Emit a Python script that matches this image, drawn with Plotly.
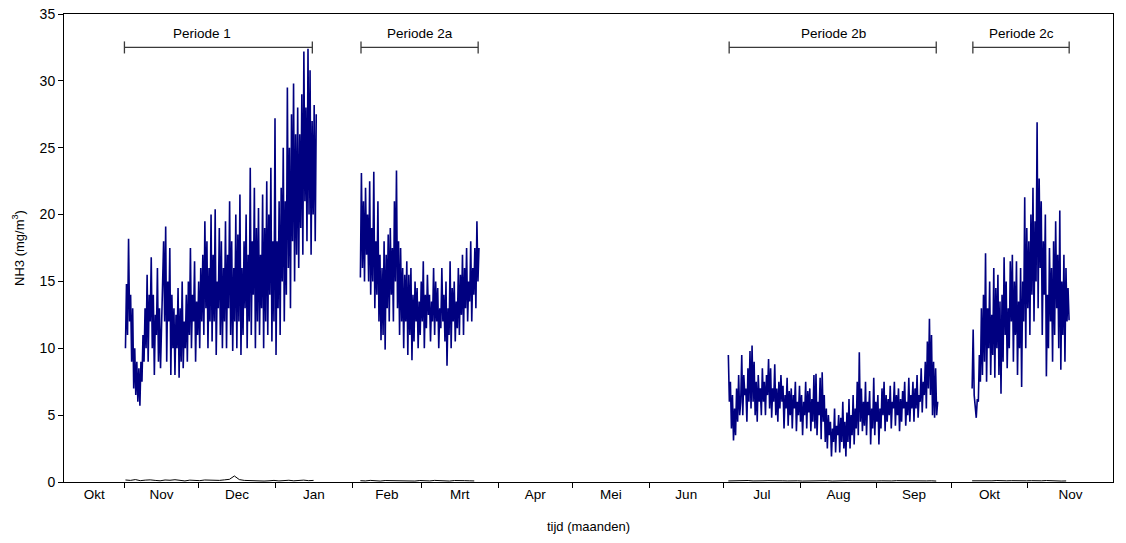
import pandas as pd
import plotly.graph_objects as go

# ---------------- data ----------------
STEP = "10h"

p1_start = "2004-11-01 10:00"
p1_nh3 = [
    10, 14.8, 11, 18.2, 12, 14, 9, 13, 7, 10, 6.5, 9,
    6, 8.5, 5.7, 9, 7.5, 11, 9, 13, 10, 15.5, 9, 14,
    12, 16.8, 10, 14, 8, 12.5, 11, 16, 9, 13, 8.5, 12,
    13, 18, 12, 19.1, 9, 15, 12, 17.5, 8, 14, 10, 13,
    8, 12.5, 10, 14.5, 7.8, 13, 9, 15, 8.5, 12, 10, 14,
    9, 15, 11, 17.5, 10, 14, 12, 16.5, 9, 13.5, 11, 15,
    10, 16, 12, 17, 11, 19.5, 13, 18, 10, 16, 12, 20,
    10.5, 17, 12, 20.4, 9.5, 15, 13, 19, 11, 18, 10, 16,
    12, 19.5, 10, 17, 13, 21, 11, 18, 9.8, 16, 12, 20,
    10, 18.5, 12, 21.5, 9.5, 16, 11, 18, 13, 20, 10, 17,
    12, 23.5, 11, 18, 14, 22, 10, 19, 12, 20.5, 11, 17,
    13, 21.5, 10, 19, 12, 22.5, 11, 20, 14, 23.5, 10.5, 18,
    12, 27.2, 9.5, 18, 13, 21, 11, 22, 15, 25, 12, 21,
    14, 29.5, 16, 25, 13, 27.5, 18, 29.8, 15, 26, 17, 28,
    16, 26, 19, 29, 17, 32.2, 21, 28, 18, 32.4, 20, 30.8,
    17, 27, 20, 28.2, 18, 27.5,
]

p2a_start = "2005-02-04 08:00"
p2a_nh3 = [
    15.3, 23.1, 16, 21, 15, 22, 17, 20, 15, 22.5, 14, 19,
    15, 23.2, 13, 18, 14, 21, 12, 17, 10.6, 16, 11, 18,
    9.9, 17, 13, 18.5, 12, 19, 14, 17.5, 12, 21, 15, 23.3,
    13, 18, 11, 17.5, 12, 16, 10, 15.5, 12, 16.5, 9.5, 15.5,
    11, 16, 9.1, 14, 10.5, 15, 12, 14.5, 10, 13.5, 11, 15,
    12, 16.5, 10, 14, 11.5, 15.5, 12.5, 14, 10.5, 13.5, 12, 16,
    11, 15, 12, 14.5, 10, 13, 11.5, 16, 12, 14, 10.5, 15,
    8.7, 13, 11, 16.5, 10, 14.5, 12, 15, 10.5, 13.5, 11.5, 16,
    11, 15.5, 12.5, 17, 11, 16, 13, 17.5, 12, 15, 13.5, 18,
    12, 16, 14, 17.5, 13, 19.5, 15, 17.5,
]

p2b_start = "2005-07-03 00:00"
p2b_nh3 = [
    9.5, 6, 7.5, 4, 6.5, 3.1, 5.5, 3.5, 7, 4.5, 8, 5,
    6, 9.5, 5, 8, 6.5, 7, 4.5, 8.5, 6, 9.8, 5.5, 10.2,
    6, 9, 5, 7.5, 4.5, 8, 6, 7, 5, 8.5, 6, 7.5,
    5, 8, 6.5, 9.2, 5.5, 8.5, 4.8, 7, 6, 8.8, 5, 7,
    4.5, 7.5, 5.5, 8, 6, 7.2, 4, 6.5, 5.5, 7.8, 4.2, 6.8,
    5, 7, 4, 6.5, 5.5, 7.5, 3.8, 6, 5, 7.2, 4.5, 6.5,
    3.5, 6, 5, 7.5, 4, 6.8, 5.2, 7, 3.8, 6.2, 4.5, 8,
    4, 8.1, 3.5, 6, 5, 7.8, 3.2, 8.2, 4.5, 6.5, 3, 5.5,
    2.5, 5, 3.5, 4.5, 1.9, 4, 3, 5.5, 2.2, 4.2, 3.5, 5,
    2.2, 4.8, 3, 6, 2.5, 4.5, 1.9, 5.2, 3, 6.2, 2.5, 5,
    3.5, 6.5, 2.8, 5.5, 4, 7.5, 3.5, 9.7, 4.5, 7, 3.8, 6,
    4.2, 7.5, 3.5, 6, 5, 6.8, 2.8, 5.5, 4, 7.8, 3.5, 6,
    4.5, 6.5, 2.8, 5.5, 4, 7, 5, 7.5, 3.8, 6.5, 4.5, 6.2,
    5, 7.2, 4, 6, 5.5, 7.5, 4.2, 6.5, 5, 7, 3.8, 6.2,
    4.5, 6.8, 5.5, 7.5, 4.2, 6, 5, 7.8, 4.5, 6.5, 5.5, 7.5,
    4.5, 7, 5.5, 8, 4.8, 6.5, 6, 8.5, 5.2, 7.5, 6.5, 9,
    5.5, 10.5, 7, 12.2, 6.5, 11, 5, 9, 4.8, 8.5, 5, 6,
]

p2c_start = "2005-10-09 12:00"
p2c_nh3 = [
    7, 11.4, 6.5, 5.5, 4.8, 6.2, 6, 9.5, 7.5, 13, 8, 14,
    9, 17.1, 7.5, 13, 10, 15, 8, 12.5, 9.5, 16, 7.8, 14.5,
    10, 15.5, 8, 13.5, 6.6, 14, 9, 16.8, 11, 15, 8.5, 13,
    10, 16.5, 12, 17, 9, 15, 11, 16.5, 8, 13.5, 10, 16,
    7.1, 15, 12, 21.3, 10, 19, 13, 18, 11, 20, 14, 22,
    12, 19.5, 15, 26.9, 13, 22.7, 16, 21, 11, 18, 14, 20,
    7.9, 14, 10, 17.5, 12, 16, 9, 18, 11, 19.5, 13, 17,
    10, 20.3, 8.4, 15, 11, 17, 9, 16, 12, 14.5, 12.1,
]

# second (near-zero) series, sampled every 2 days
STEP2 = "2D"
p1_low = [0.15, 0.12, 0.18, 0.10, 0.14, 0.16, 0.12, 0.09, 0.15, 0.13, 0.17, 0.11, 0.08,
          0.14, 0.12, 0.10, 0.15, 0.13, 0.09, 0.12, 0.16, 0.20, 0.45, 0.18, 0.12, 0.10,
          0.08, 0.11, 0.07, 0.09, 0.12, 0.08, 0.10, 0.13, 0.09, 0.11, 0.14, 0.10, 0.12]
p2a_low = [0.10, 0.08, 0.12, 0.09, 0.07, 0.11, 0.10, 0.08, 0.12, 0.09, 0.10, 0.07,
           0.11, 0.09, 0.08, 0.12, 0.10, 0.09, 0.07, 0.11, 0.08, 0.10, 0.09, 0.08]
p2b_low = [0.08, 0.10, 0.07, 0.09, 0.11, 0.08, 0.06, 0.09, 0.10, 0.08, 0.07, 0.09, 0.08,
           0.10, 0.09, 0.07, 0.08, 0.11, 0.09, 0.08, 0.10, 0.07, 0.09, 0.08, 0.10, 0.09,
           0.08, 0.07, 0.09, 0.10, 0.08, 0.09, 0.07, 0.08, 0.10, 0.09, 0.08, 0.07, 0.09,
           0.10, 0.08, 0.09, 0.07]
p2c_low = [0.09, 0.08, 0.10, 0.07, 0.09, 0.11, 0.08, 0.09, 0.10, 0.08, 0.07, 0.09,
           0.10, 0.08, 0.09, 0.11, 0.08, 0.09, 0.07, 0.08]

periods = ["Periode 1", "Periode 2a", "Periode 2b", "Periode 2c"]
period_begin = ["2004-11-01", "2005-02-04 14:00", "2005-07-03 08:00", "2005-10-09 19:00"]
period_end = ["2005-01-15 22:00", "2005-03-23 22:00", "2005-09-25 00:00", "2005-11-17 17:00"]
period_label_at = ["2004-12-02 12:00", "2005-02-28 06:00", "2005-08-14 12:00", "2005-10-29 06:00"]

month_labels = ["Okt", "Nov", "Dec", "Jan", "Feb", "Mrt", "Apr", "Mei", "Jun",
                "Jul", "Aug", "Sep", "Okt", "Nov"]
month_starts = ["2004-11-01", "2004-12-01", "2005-01-01", "2005-02-01", "2005-03-01",
                "2005-04-01", "2005-05-01", "2005-06-01", "2005-07-01", "2005-08-01",
                "2005-09-01", "2005-10-01", "2005-11-01"]
x_range = ["2004-10-07 14:00", "2005-12-05 10:00"]

# ---------------- figure ----------------
FONT = "Liberation Sans, Arial, sans-serif"
BLUE = "#000080"

fig = go.Figure()

for start, vals in [(p1_start, p1_nh3), (p2a_start, p2a_nh3),
                    (p2b_start, p2b_nh3), (p2c_start, p2c_nh3)]:
    t = pd.date_range(start, periods=len(vals), freq=STEP)
    fig.add_trace(go.Scatter(x=t, y=vals, mode="lines",
                             line=dict(color=BLUE, width=1.6), showlegend=False,
                             hoverinfo="x+y"))

for start, vals in [(p1_start, p1_low), (p2a_start, p2a_low),
                    (p2b_start, p2b_low), (p2c_start, p2c_low)]:
    t = pd.date_range(start, periods=len(vals), freq=STEP2)
    fig.add_trace(go.Scatter(x=t, y=vals, mode="lines",
                             line=dict(color="black", width=1), showlegend=False))

# period brackets
BR_Y = 32.5
CAP = 0.45
for name, b, e, lx in zip(periods, period_begin, period_end, period_label_at):
    for x0, x1, y0, y1 in [(b, e, BR_Y, BR_Y), (b, b, BR_Y - CAP, BR_Y + CAP),
                           (e, e, BR_Y - CAP, BR_Y + CAP)]:
        fig.add_shape(type="line", xref="x", yref="y", x0=x0, x1=x1, y0=y0, y1=y1,
                      line=dict(color="#3a3a3a", width=1.3))
    fig.add_annotation(x=lx, y=33.55, text=name, showarrow=False, xref="x", yref="y",
                       font=dict(family=FONT, size=13.5, color="black"))

# month label positions: centres between boundaries
bounds = [pd.Timestamp(x_range[0])] + [pd.Timestamp(m) for m in month_starts] + [pd.Timestamp(x_range[1])]
label_pos = [bounds[i] + (bounds[i + 1] - bounds[i]) / 2 for i in range(len(bounds) - 1)]

fig.update_layout(
    width=1126, height=543,
    margin=dict(l=64, r=13, t=14, b=61, autoexpand=False),
    paper_bgcolor="white", plot_bgcolor="white",
    font=dict(family=FONT, size=13, color="black"),
    xaxis=dict(
        type="date", range=x_range, automargin=False,
        tickmode="array", tickvals=label_pos, ticktext=month_labels,
        ticks="", showgrid=False, zeroline=False,
        showline=True, linecolor="black", linewidth=1, mirror=True,
        tickfont=dict(family=FONT, size=13.5),
        minor=dict(tickmode="array", tickvals=month_starts, ticks="outside",
                   ticklen=5, tickcolor="black", tickwidth=1, showgrid=False),
        title=dict(text="tijd (maanden)", font=dict(family=FONT, size=13), standoff=20),
    ),
    yaxis=dict(
        range=[0, 35], tickmode="linear", tick0=0, dtick=5, automargin=False,
        ticks="outside", ticklen=5, tickcolor="black",
        showgrid=False, zeroline=False,
        showline=True, linecolor="black", linewidth=1, mirror=True,
        tickfont=dict(family=FONT, size=14),
        title=dict(text="NH3 (mg/m<sup>3</sup>)", font=dict(family=FONT, size=13), standoff=12),
    ),
)

fig.write_html("out.html")
